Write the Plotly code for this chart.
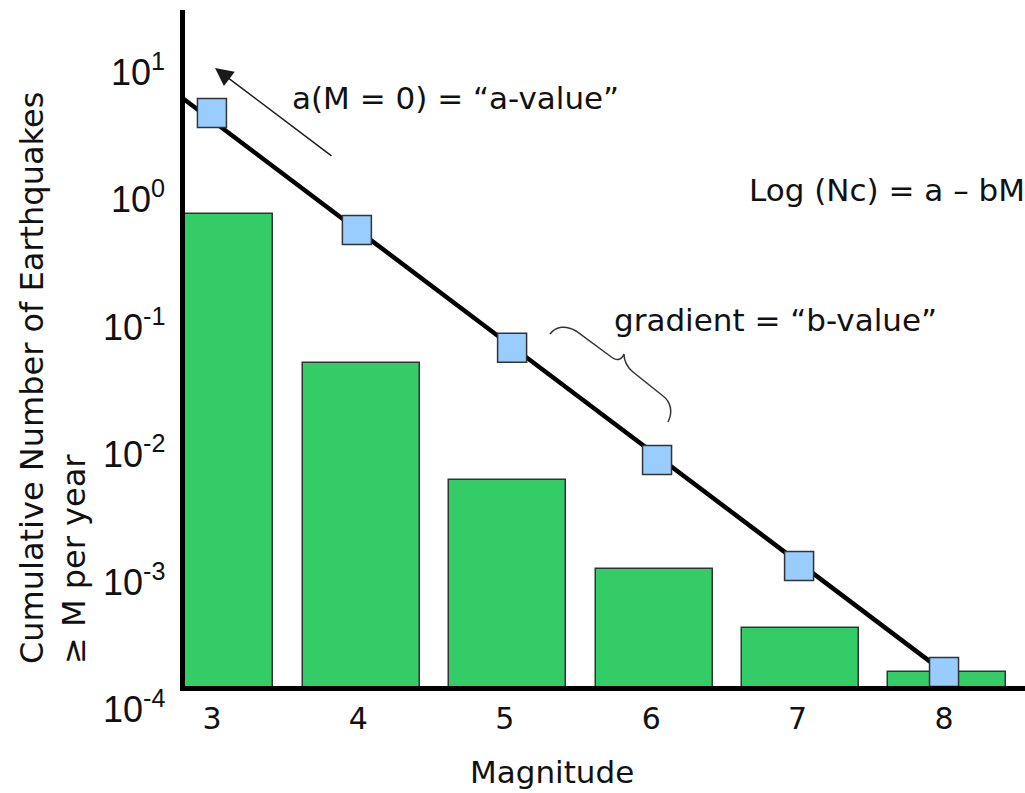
import math
import plotly.graph_objects as go

# ---------------- data ----------------
MAGNITUDES = [3, 4, 5, 6, 7, 8]
BAR_COUNTS = [0.74, 0.050, 0.00605, 0.00121, 0.000417, 0.000188]
POINT_MAGNITUDES = [3.0, 3.99, 5.05, 6.04, 7.01, 8.0]
POINT_COUNTS = [4.6, 0.555, 0.066, 0.0087, 0.00128, 0.000188]
FIT_MAGNITUDES = [2.8, 8.0]
FIT_COUNTS = [6.0, 0.000188]

X_TICK_TEXT = ["3", "4", "5", "6", "7", "8"]
Y_TICK_VALUES = [1e1, 1e0, 1e-1, 1e-2, 1e-3, 1e-4]
Y_TICK_TEXT = ["10<sup>1</sup>", "10<sup>0</sup>", "10<sup>-1</sup>",
               "10<sup>-2</sup>", "10<sup>-3</sup>", "10<sup>-4</sup>"]

X_RANGE = [2.816, 8.553]
Y_RANGE = [-3.835, 1.471]  # log10 units

# ---------------- layout geometry ----------------
W, H = 1025, 793
ML, MR, MT, MB = 185, 0, 10, 107
PW, PH = W - ML - MR, H - MT - MB


def px_x(x):
    return (x - ML) / PW


def px_y(y):
    return (H - MB - y) / PH


def ypaper_from_value(v):
    return (math.log10(v) - Y_RANGE[0]) / (Y_RANGE[1] - Y_RANGE[0])


TEXT_FONT = "DejaVu Sans"
TICK_FONT = "Liberation Sans, Arial"
INK = "#111111"

fig = go.Figure()

fig.add_trace(go.Bar(
    x=MAGNITUDES, y=BAR_COUNTS, width=0.8, offset=-0.38,
    marker=dict(color="#33CC66", line=dict(color="#333333", width=1.5)),
    showlegend=False, hoverinfo="skip",
))

fig.add_trace(go.Scatter(
    x=FIT_MAGNITUDES, y=FIT_COUNTS, mode="lines",
    line=dict(color="black", width=4.5),
    showlegend=False, hoverinfo="skip",
))

fig.add_trace(go.Scatter(
    x=POINT_MAGNITUDES, y=POINT_COUNTS, mode="markers",
    marker=dict(symbol="square", size=29, color="#99CCFF",
                line=dict(color="#333333", width=1.5)),
    cliponaxis=False, showlegend=False, hoverinfo="skip",
))

annotations = []

# y tick labels (placed as text so the 10^-4 label can sit below the axis)
for v, t in zip(Y_TICK_VALUES, Y_TICK_TEXT):
    annotations.append(dict(
        text=t, xref="paper", yref="paper", x=0, y=ypaper_from_value(v),
        xanchor="right", yanchor="middle", xshift=-18, showarrow=False,
        font=dict(family=TICK_FONT, size=36, color=INK),
    ))

# axis titles
annotations.append(dict(
    text="Magnitude", xref="paper", yref="paper", x=px_x(552), y=px_y(772),
    xanchor="center", yanchor="middle", showarrow=False,
    font=dict(family=TEXT_FONT, size=31, color=INK),
))
annotations.append(dict(
    text="Cumulative Number of Earthquakes<br>\u2265 M per year",
    xref="paper", yref="paper", x=px_x(53), y=px_y(378),
    xanchor="center", yanchor="middle", textangle=-90, align="left",
    showarrow=False, font=dict(family=TEXT_FONT, size=32, color=INK),
))

# labels in the plot
annotations.append(dict(
    text="a(M = 0) = \u201ca-value\u201d", xref="paper", yref="paper",
    x=px_x(290), y=px_y(98), xanchor="left", yanchor="middle",
    showarrow=False, font=dict(family=TEXT_FONT, size=31, color=INK),
))
annotations.append(dict(
    text="gradient = \u201cb-value\u201d", xref="paper", yref="paper",
    x=px_x(612), y=px_y(320), xanchor="left", yanchor="middle",
    showarrow=False, font=dict(family=TEXT_FONT, size=31, color=INK),
))
annotations.append(dict(
    text="Log (Nc) = a \u2013 bM", xref="paper", yref="paper",
    x=px_x(1027), y=px_y(190), xanchor="right", yanchor="middle",
    showarrow=False, font=dict(family=TEXT_FONT, size=31, color=INK),
))

# arrow pointing to the intercept
annotations.append(dict(
    text="", xref="paper", yref="paper", x=px_x(215), y=px_y(68),
    ax=118, ay=89, axref="pixel", ayref="pixel",
    showarrow=True, arrowhead=2, arrowsize=2.4, arrowwidth=1.5,
    arrowcolor="#1a1a1a", standoff=0, startstandoff=0,
))

# curly brace
brace_cmds = [
    ("M", [(550, 334)]),
    ("C", [(556, 326), (566, 325), (576, 331)]),
    ("L", [(610, 356)]),
    ("C", [(616, 361), (621, 361), (624, 354)]),
    ("C", [(624, 362), (627, 367), (633, 372)]),
    ("L", [(663, 396)]),
    ("C", [(671, 402), (673, 412), (668, 422)]),
]
path = " ".join(
    c + " " + " ".join(f"{px_x(a):.5f},{px_y(b):.5f}" for a, b in pts)
    for c, pts in brace_cmds
)

fig.update_layout(
    width=W, height=H,
    margin=dict(l=ML, r=MR, t=MT, b=MB, pad=0),
    paper_bgcolor="white", plot_bgcolor="white",
    bargap=0,
    annotations=annotations,
    shapes=[dict(type="path", path=path, xref="paper", yref="paper",
                 line=dict(color="#333333", width=1.5))],
    xaxis=dict(
        range=X_RANGE, showline=True, linecolor="black", linewidth=5,
        showgrid=False, zeroline=False, ticks="",
        tickvals=MAGNITUDES, ticktext=X_TICK_TEXT, ticklabelstandoff=2,
        tickfont=dict(family=TEXT_FONT, size=30, color=INK),
    ),
    yaxis=dict(
        type="log", range=Y_RANGE, showline=True, linecolor="black",
        linewidth=5, showgrid=False, zeroline=False, ticks="",
        showticklabels=False,
    ),
)

fig.write_html("out.html")
